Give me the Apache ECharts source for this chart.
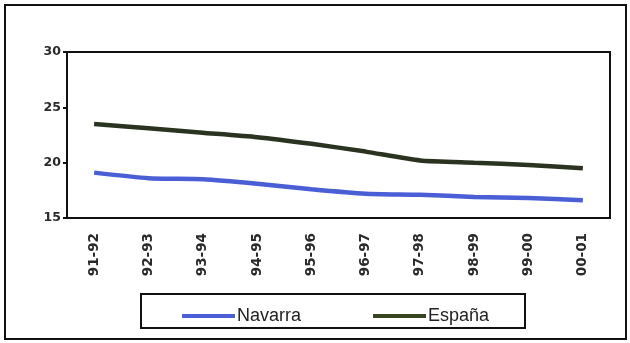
<!DOCTYPE html>
<html>
<head>
<meta charset="utf-8">
<script src="https://cdn.jsdelivr.net/npm/echarts@6/dist/echarts.min.js"></script>
<style>html,body{margin:0;padding:0;background:#fff}#c{width:630px;height:343px}</style>
</head>
<body>
<div id="c"></div>
<script>
const categories = ['91-92','92-93','93-94','94-95','95-96','96-97','97-98','98-99','99-00','00-01'];
const navarra = [19.1, 18.6, 18.5, 18.1, 17.6, 17.2, 17.1, 16.9, 16.8, 16.6];
const espana = [23.5, 23.1, 22.7, 22.3, 21.7, 21.0, 20.2, 20.0, 19.8, 19.5];
const yTicks = [15, 20, 25, 30];

const chart = echarts.init(document.getElementById('c'), null, {renderer: 'canvas'});
chart.setOption({
  animation: false,
  backgroundColor: '#fff',
  graphic: [
    {type: 'rect', shape: {x: 5, y: 5, width: 621, height: 334}, style: {fill: 'none', stroke: '#111', lineWidth: 2}, z: -1},
    {type: 'rect', shape: {x: 141, y: 294, width: 384, height: 34}, style: {fill: 'none', stroke: '#111', lineWidth: 2}, z: -1}
  ],
  grid: {left: 67, right: 20, top: 52, bottom: 125, show: true, borderColor: '#111', borderWidth: 2, backgroundColor: 'transparent'},
  legend: {
    data: ['Navarra', 'España'],
    left: 177, top: 302,
    itemWidth: 53, itemHeight: 4, itemGap: 72,
    icon: 'rect',
    textStyle: {fontFamily: 'Liberation Sans, Arial', fontSize: 18, color: '#222', padding: [0, 0, 0, -3]}
  },
  xAxis: {
    type: 'category',
    data: categories,
    boundaryGap: true,
    axisLine: {show: true, lineStyle: {color: '#111', width: 2}},
    axisTick: {show: false},
    splitLine: {show: false},
    axisLabel: {rotate: 90, margin: 15, fontFamily: 'DejaVu Sans', fontWeight: 'bold', fontSize: 13.5, color: '#2a2a2a'}
  },
  yAxis: {
    type: 'value',
    min: yTicks[0], max: yTicks[yTicks.length - 1], interval: 5,
    axisLine: {show: true, lineStyle: {color: '#111', width: 2}},
    axisTick: {show: true, length: 4, lineStyle: {color: '#111', width: 2}},
    splitLine: {show: false},
    axisLabel: {margin: 6, fontFamily: 'DejaVu Sans', fontWeight: 'bold', fontSize: 12.5, color: '#2a2a2a'}
  },
  series: [
    {name: 'Navarra', type: 'line', data: navarra, smooth: 0.2, symbol: 'none', lineStyle: {color: '#4a5ed6', width: 4.5}, itemStyle: {color: '#4a5ed6'}},
    {name: 'España', type: 'line', data: espana, smooth: 0.2, symbol: 'none', lineStyle: {color: '#2a3320', width: 4.5}, itemStyle: {color: '#36441f'}}
  ]
});
</script>
</body>
</html>
